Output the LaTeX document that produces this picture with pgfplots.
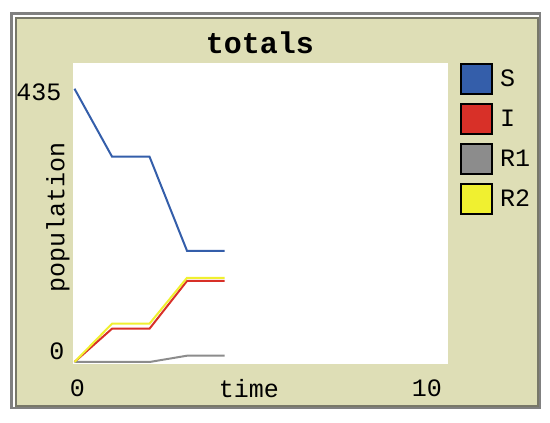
\documentclass[border=0pt]{standalone}
\usepackage{fontspec}
\setmainfont{Liberation Mono}
\usepackage{pgfplots}
\pgfplotsset{compat=1.18}
\definecolor{beige}{RGB}{222,222,182}
\definecolor{cS}{RGB}{52,94,170}
\definecolor{cI}{RGB}{216,48,40}
\definecolor{cR1}{RGB}{140,140,140}
\definecolor{cR2}{RGB}{240,240,48}
\definecolor{frameG}{RGB}{128,128,128}
\definecolor{frameD}{RGB}{120,120,104}
\newcommand{\fs}{\fontsize{25}{25}\selectfont}
\begin{document}
\begin{tikzpicture}
\fill[white] (0pt,0pt) rectangle (550pt,-423pt);
\fill[frameG] (10pt,-12pt) rectangle (541pt,-409pt);
\fill[white] (13pt,-15pt) rectangle (539pt,-407pt);
\fill[frameD] (15pt,-17pt) rectangle (539pt,-407pt);
\fill[beige] (17pt,-19pt) rectangle (537pt,-405pt);
\node[font=\fontsize{30}{30}\selectfont\bfseries] at (260pt,-43pt) {totals};
\begin{axis}[
  at={(73pt,-364pt)}, anchor=south west,
  scale only axis, width=375pt, height=301pt,
  xmin=-0.04, xmax=9.96, ymin=-3.2, ymax=476,
  axis background/.style={fill=white},
  axis line style={draw=none},
  major tick length=0pt,
  xtick={0}, xticklabels={0},
  extra x ticks={9.9}, extra x tick labels={10},
  extra x tick style={xticklabel style={xshift=-21.75pt}},
  xticklabel style={font=\fs, anchor=center, yshift=-24pt, xshift=3pt},
  ytick={435}, yticklabels={435},
  extra y ticks={0}, extra y tick labels={0},
  extra y tick style={yticklabel style={yshift=15pt, xshift=3pt}},
  yticklabel style={font=\fs, anchor=east, xshift=-8pt, yshift=-4pt},
  xlabel={time}, ylabel={population},
  xlabel style={font=\fs, at={(axis description cs:0.469,-0.08)}, anchor=center},
  ylabel style={font=\fs, at={(axis description cs:-0.04,0.488)}, anchor=center},
  legend style={at={(1.032,1)}, anchor=north west, draw=none, fill=none,
    font=\fs, row sep=8pt, column sep=7pt, inner sep=0pt,
    nodes={inner sep=0pt}},
  legend cell align=left,
]
\addplot[cS, line width=2pt, legend image code/.code={\draw[black,line width=2pt,fill=cS] (0pt,-15pt) rectangle (31pt,15pt);}]
  coordinates {(0,435) (1,327) (2,327) (3,177) (4,177)};
\addlegendentry{S}
\addplot[cI, line width=2pt, legend image code/.code={\draw[black,line width=2pt,fill=cI] (0pt,-15pt) rectangle (31pt,15pt);}]
  coordinates {(0,0) (1,53) (2,53) (3,129) (4,129)};
\addlegendentry{I}
\addplot[cR1, line width=2pt, legend image code/.code={\draw[black,line width=2pt,fill=cR1] (0pt,-15pt) rectangle (31pt,15pt);}]
  coordinates {(0,0) (1,0) (2,0) (3,10) (4,10)};
\addlegendentry{R1}
\addplot[cR2, line width=2pt, legend image code/.code={\draw[black,line width=2pt,fill=cR2] (0pt,-15pt) rectangle (31pt,15pt);}]
  coordinates {(0,0) (1,61) (2,61) (3,134) (4,134)};
\addlegendentry{R2}
\end{axis}
\end{tikzpicture}
\end{document}
